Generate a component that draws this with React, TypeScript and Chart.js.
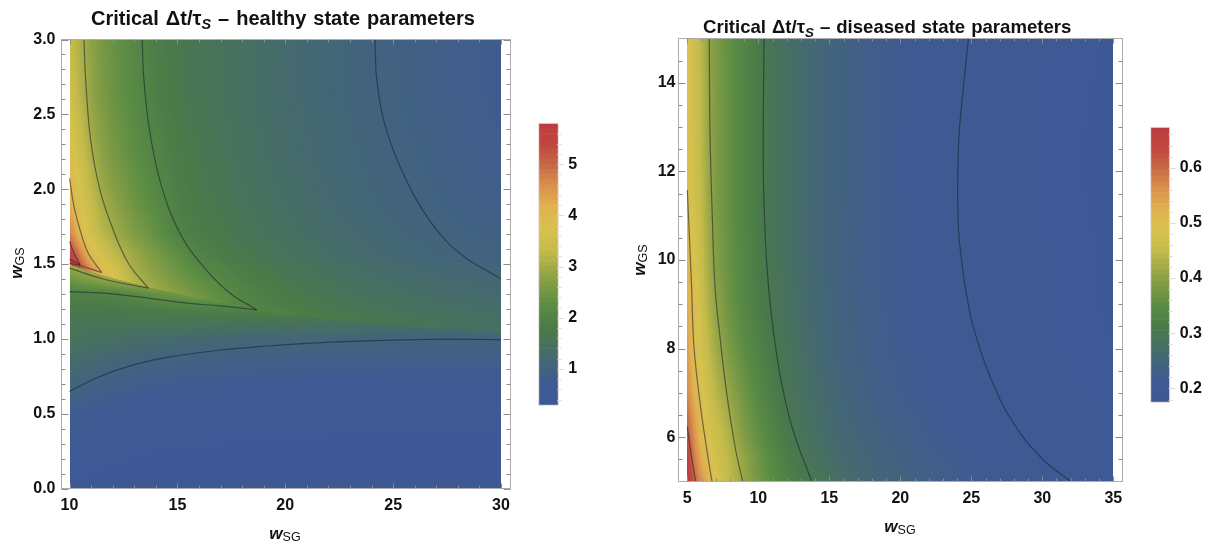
import React, { useEffect, useRef } from "react";
import { Chart, registerables } from "chart.js";

Chart.register(...registerables);

type Pt = [number, number];

/* ---------- colour ramp ---------- */
const rampStops: [number, string][] = [
  [0, "#3e5896"], [0.08, "#3f5a92"], [0.13, "#42637f"], [0.2, "#476f62"], [0.27, "#4a7a48"],
  [0.35, "#5a8c44"], [0.45, "#8ca145"], [0.55, "#c4bb4a"], [0.62, "#d6c24e"], [0.7, "#e0b350"],
  [0.78, "#d98f4c"], [0.85, "#c76a47"], [0.92, "#c0483f"], [1, "#bc3b3f"],
];

/* ---------- healthy state ---------- */
const healthyRange: Pt = [0.29, 5.8];
const healthyXTicks = [10, 15, 20, 25, 30];
const healthyYTicks = [0, 0.5, 1, 1.5, 2, 2.5, 3];
const healthyXMinor = [11, 12, 13, 14, 16, 17, 18, 19, 21, 22, 23, 24, 26, 27, 28, 29];
const healthyYMinor = [0.1, 0.2, 0.3, 0.4, 0.6, 0.7, 0.8, 0.9, 1.1, 1.2, 1.3, 1.4, 1.6, 1.7, 1.8, 1.9, 2.1, 2.2, 2.3, 2.4, 2.6, 2.7, 2.8, 2.9];
const healthyBarTicks = [1, 2, 3, 4, 5];
const healthyBarMinor = [0.4, 0.6, 0.8, 1.2, 1.4, 1.6, 1.8, 2.2, 2.4, 2.6, 2.8, 3.2, 3.4, 3.6, 3.8, 4.2, 4.4, 4.6, 4.8, 5.2, 5.4, 5.6];
const healthyBarLevels = [0.29, 0.4, 0.5, 0.6, 0.7, 0.8, 0.9, 1, 1.1, 1.2, 1.3, 1.4, 1.5, 1.6, 1.7, 1.8, 1.9, 2, 2.1, 2.2, 2.3, 2.4, 2.5, 2.6, 2.7, 2.8, 2.9, 3, 3.1, 3.2, 3.3, 3.4, 3.5, 3.6, 3.7, 3.8, 3.9, 4, 4.1, 4.2, 4.3, 4.4, 4.5, 4.6, 4.7, 4.8, 4.9, 5, 5.1, 5.2, 5.3, 5.4, 5.5, 5.6, 5.7, 5.8];

const ridge: Pt[] = [[10, 1.495], [11.49, 1.425], [13.65, 1.345], [18.68, 1.193], [22, 1.13], [26, 1.08], [30, 1.04]];

const upperXs = [10, 10.5, 11, 11.5, 12, 13, 14, 15, 16, 18, 20, 22, 24, 26, 28, 30];
const upperYs = [3, 2.6, 2.2, 1.9, 1.7, 1.55, 1.45, 1.35, 1.25, 1.15, 1.0];
const upperValues = [
  [3.4, 3.08, 2.8, 2.55, 2.38, 2.1, 1.86, 1.7, 1.58, 1.4, 1.24, 1.11, 1.01, 0.92, 0.84, 0.77],
  [3.6, 3.2, 2.85, 2.6, 2.42, 2.15, 1.9, 1.73, 1.6, 1.41, 1.25, 1.12, 1.02, 0.93, 0.85, 0.78],
  [3.92, 3.5, 3.1, 2.8, 2.58, 2.26, 2.02, 1.83, 1.68, 1.46, 1.29, 1.16, 1.05, 0.97, 0.89, 0.82],
  [4.2, 3.75, 3.36, 3.03, 2.82, 2.45, 2.15, 1.9, 1.75, 1.53, 1.36, 1.22, 1.1, 1.005, 0.93, 0.86],
  [4.75, 4.0, 3.55, 3.25, 3.02, 2.65, 2.32, 1.98, 1.82, 1.6, 1.42, 1.28, 1.16, 1.07, 0.98, 0.92],
  [5.7, 4.8, 4.05, 3.65, 3.35, 2.95, 2.6, 2.28, 2.0, 1.72, 1.52, 1.36, 1.24, 1.14, 1.05, 0.98],
  [6, 5.4, 4.6, 4.05, 3.7, 3.05, 2.72, 2.42, 2.17, 1.85, 1.62, 1.46, 1.33, 1.22, 1.15, 1.09],
  [6, 5.6, 5, 4.4, 3.9, 3.25, 2.92, 2.6, 2.35, 1.97, 1.72, 1.55, 1.42, 1.32, 1.24, 1.18],
  [6, 5.8, 5.2, 4.6, 4.1, 3.5, 3.1, 2.8, 2.55, 2.03, 1.82, 1.63, 1.5, 1.4, 1.32, 1.27],
  [6, 5.8, 5.2, 4.6, 4.1, 3.6, 3.2, 2.9, 2.7, 2.2, 1.95, 1.78, 1.63, 1.52, 1.43, 1.36],
  [6, 5.8, 5.2, 4.6, 4.1, 3.6, 3.2, 2.9, 2.7, 2.3, 2.0, 1.85, 1.7, 1.6, 1.5, 1.42],
];

const lowerXs = [10, 12, 14, 16, 18, 20, 22, 24, 26, 28, 30];
const lowerYs = [1.5, 1.4, 1.3, 1.2, 1.1, 1, 0.9, 0.8, 0.7, 0.6, 0.5, 0.4, 0.2, 0];
const lowerValues = [
  [3.05, 3.1, 3.1, 3, 2.9, 2.8, 2.6, 2.4, 2.2, 2.05, 1.9],
  [2.45, 2.95, 3.1, 3, 2.9, 2.7, 2.5, 2.3, 2.1, 1.95, 1.8],
  [1.93, 2.0, 2.35, 2.6, 2.5, 2.3, 2.1, 1.9, 1.8, 1.7, 1.6],
  [1.75, 1.75, 1.85, 1.92, 2.0, 2.05, 1.9, 1.75, 1.65, 1.55, 1.48],
  [1.6, 1.57, 1.55, 1.53, 1.5, 1.47, 1.44, 1.4, 1.35, 1.3, 1.26],
  [1.5, 1.38, 1.27, 1.2, 1.15, 1.12, 1.09, 1.06, 1.03, 1.02, 1.01],
  [1.36, 1.2, 1.08, 1.0, 0.96, 0.94, 0.92, 0.91, 0.9, 0.89, 0.89],
  [1.22, 1.03, 0.94, 0.88, 0.84, 0.82, 0.8, 0.79, 0.78, 0.78, 0.78],
  [1.07, 0.89, 0.8, 0.76, 0.73, 0.71, 0.7, 0.69, 0.68, 0.68, 0.68],
  [0.93, 0.77, 0.69, 0.65, 0.62, 0.61, 0.6, 0.59, 0.58, 0.58, 0.58],
  [0.8, 0.65, 0.59, 0.55, 0.53, 0.52, 0.51, 0.5, 0.5, 0.49, 0.49],
  [0.68, 0.55, 0.5, 0.47, 0.45, 0.44, 0.43, 0.42, 0.42, 0.41, 0.41],
  [0.48, 0.42, 0.38, 0.36, 0.35, 0.34, 0.33, 0.33, 0.32, 0.32, 0.32],
  [0.38, 0.35, 0.32, 0.31, 0.3, 0.3, 0.3, 0.3, 0.3, 0.3, 0.3],
];

const healthyContours: Pt[][] = [
  [[24.16, 3], [24.25, 2.72], [24.62, 2.43], [25.45, 2.11], [26.7, 1.79], [28.1, 1.57], [30, 1.4]],
  [[13.37, 3], [13.45, 2.73], [13.73, 2.374], [14.27, 2.017], [15.12, 1.706], [16.2, 1.483], [17.44, 1.305], [18.68, 1.195]],
  [[10, 1.316], [11.57, 1.305], [13.11, 1.282], [15.43, 1.238], [16.98, 1.22], [18.68, 1.193]],
  [[10.67, 3], [10.75, 2.73], [10.98, 2.33], [11.41, 1.995], [12.03, 1.727], [12.73, 1.505], [13.65, 1.338]],
  [[10, 1.472], [11.57, 1.4], [13.65, 1.338]],
  [[10, 2.073], [10.21, 1.883], [10.49, 1.727], [10.87, 1.572], [11.49, 1.443]],
  [[10, 1.505], [10.49, 1.49], [11.49, 1.443]],
  [[10, 1.65], [10.21, 1.572], [10.49, 1.494]],
  [[10, 1.532], [10.49, 1.494]],
  [[10, 0.648], [11.41, 0.748], [12.96, 0.826], [14.5, 0.876], [16.82, 0.922], [19.14, 0.952], [21, 0.97], [23.77, 0.987], [26.86, 0.997], [30, 0.995]],
];

/* ---------- diseased state ---------- */
const diseasedRange: Pt = [0.175, 0.673];
const diseasedXTicks = [5, 10, 15, 20, 25, 30, 35];
const diseasedYTicks = [6, 8, 10, 12, 14];
const diseasedXMinor = [6, 7, 8, 9, 11, 12, 13, 14, 16, 17, 18, 19, 21, 22, 23, 24, 26, 27, 28, 29, 31, 32, 33, 34];
const diseasedYMinor = [5.5, 6.5, 7, 7.5, 8.5, 9, 9.5, 10.5, 11, 11.5, 12.5, 13, 13.5, 14.5];
const diseasedBarTicks = [0.2, 0.3, 0.4, 0.5, 0.6];
const diseasedBarMinor = [0.18, 0.22, 0.24, 0.26, 0.28, 0.32, 0.34, 0.36, 0.38, 0.42, 0.44, 0.46, 0.48, 0.52, 0.54, 0.56, 0.58, 0.62, 0.64, 0.66];
const diseasedBarLevels = [0.175, 0.185, 0.195, 0.205, 0.215, 0.225, 0.235, 0.245, 0.255, 0.265, 0.275, 0.285, 0.295, 0.305, 0.315, 0.325, 0.335, 0.345, 0.355, 0.365, 0.375, 0.385, 0.395, 0.405, 0.415, 0.425, 0.435, 0.445, 0.455, 0.465, 0.475, 0.485, 0.495, 0.505, 0.515, 0.525, 0.535, 0.545, 0.555, 0.565, 0.575, 0.585, 0.595, 0.605, 0.615, 0.625, 0.635, 0.645, 0.655, 0.665, 0.673];

const diseasedXs = [5, 5.5, 6, 6.5, 7, 8, 9, 10, 11, 12, 14, 16, 18, 20, 22, 24, 26, 28, 30, 32, 35];
const diseasedYs = [15, 13, 11.6, 10, 9, 8, 7, 6, 5.5, 5];
const diseasedValues = [
  [0.49, 0.465, 0.44, 0.405, 0.385, 0.355, 0.33, 0.31, 0.29, 0.275, 0.25, 0.235, 0.225, 0.215, 0.208, 0.202, 0.197, 0.193, 0.19, 0.187, 0.184],
  [0.493, 0.468, 0.442, 0.408, 0.388, 0.357, 0.332, 0.31, 0.29, 0.275, 0.25, 0.235, 0.225, 0.214, 0.207, 0.201, 0.196, 0.192, 0.189, 0.186, 0.183],
  [0.5, 0.472, 0.445, 0.41, 0.385, 0.357, 0.33, 0.31, 0.29, 0.275, 0.25, 0.235, 0.224, 0.214, 0.207, 0.2, 0.196, 0.192, 0.189, 0.186, 0.183],
  [0.515, 0.485, 0.455, 0.42, 0.392, 0.36, 0.335, 0.31, 0.292, 0.277, 0.252, 0.237, 0.225, 0.215, 0.208, 0.202, 0.197, 0.193, 0.19, 0.187, 0.184],
  [0.53, 0.505, 0.465, 0.43, 0.403, 0.365, 0.338, 0.315, 0.297, 0.28, 0.254, 0.238, 0.226, 0.216, 0.209, 0.203, 0.198, 0.194, 0.19, 0.187, 0.184],
  [0.545, 0.5, 0.475, 0.445, 0.418, 0.38, 0.35, 0.325, 0.305, 0.288, 0.258, 0.24, 0.228, 0.218, 0.21, 0.204, 0.199, 0.195, 0.191, 0.188, 0.185],
  [0.57, 0.525, 0.49, 0.465, 0.44, 0.405, 0.37, 0.34, 0.315, 0.295, 0.265, 0.246, 0.232, 0.222, 0.214, 0.208, 0.202, 0.197, 0.193, 0.19, 0.186],
  [0.62, 0.56, 0.51, 0.485, 0.465, 0.43, 0.39, 0.358, 0.33, 0.307, 0.275, 0.253, 0.24, 0.23, 0.221, 0.212, 0.206, 0.2015, 0.197, 0.194, 0.19],
  [0.66, 0.58, 0.53, 0.5, 0.475, 0.44, 0.405, 0.37, 0.34, 0.318, 0.282, 0.26, 0.245, 0.235, 0.226, 0.218, 0.212, 0.206, 0.2, 0.196, 0.192],
  [0.68, 0.61, 0.56, 0.52, 0.49, 0.445, 0.41, 0.375, 0.348, 0.325, 0.295, 0.268, 0.25, 0.24, 0.23, 0.222, 0.215, 0.209, 0.205, 0.2, 0.195],
];

const diseasedContours: Pt[][] = [
  [[24.8, 15], [24.44, 13.9], [24.13, 12.78], [24.04, 11.65], [24.1, 10.68], [24.32, 9.99], [24.62, 9.3], [25.14, 8.49], [26.32, 7.37], [27.96, 6.32], [30.07, 5.49], [32, 5]],
  [[10.4, 15], [10.35, 12.1], [10.5, 10.45], [10.72, 9.4], [11.06, 8.4], [11.6, 7.29], [12.4, 6.2], [13.76, 5]],
  [[6.55, 15], [6.6, 12.86], [6.76, 10.98], [6.95, 9.4], [7.3, 8.27], [7.77, 7], [8.36, 5.79], [8.9, 5]],
  [[5, 11.58], [5.19, 10.22], [5.3, 9.4], [5.47, 8.04], [5.9, 6.77], [6.41, 5.64], [6.74, 5]],
  [[5, 6.24], [5.26, 5.64], [5.59, 5]],
];

/* ---------- helpers ---------- */
function hexRgb(h: string): number[] {
  return [parseInt(h.slice(1, 3), 16), parseInt(h.slice(3, 5), 16), parseInt(h.slice(5, 7), 16)];
}
function ramp(v: number, range: Pt): number[] {
  const t = Math.min(1, Math.max(0, (v - range[0]) / (range[1] - range[0])));
  for (let i = 1; i < rampStops.length; i++) {
    if (t <= rampStops[i][0]) {
      const [t0, c0] = rampStops[i - 1];
      const [t1, c1] = rampStops[i];
      const f = (t - t0) / (t1 - t0);
      const a = hexRgb(c0), b = hexRgb(c1);
      return [a[0] + (b[0] - a[0]) * f, a[1] + (b[1] - a[1]) * f, a[2] + (b[2] - a[2]) * f];
    }
  }
  return hexRgb(rampStops[rampStops.length - 1][1]);
}
function bracket(arr: number[], v: number): [number, number] {
  const asc = arr[0] < arr[arr.length - 1];
  for (let i = 0; i < arr.length - 1; i++) {
    const a = arr[i], b = arr[i + 1];
    if (asc ? v <= b : v >= b) return [i, Math.min(1, Math.max(0, (v - a) / (b - a)))];
  }
  return [arr.length - 2, 1];
}
function sample(xs: number[], ys: number[], vals: number[][], x: number, y: number): number {
  const [i, fx] = bracket(xs, x);
  const [j, fy] = bracket(ys, y);
  const top = vals[j][i] + (vals[j][i + 1] - vals[j][i]) * fx;
  const bot = vals[j + 1][i] + (vals[j + 1][i + 1] - vals[j + 1][i]) * fx;
  return top + (bot - top) * fy;
}
function polyY(line: Pt[], x: number): number {
  for (let i = 0; i < line.length - 1; i++) {
    if (x <= line[i + 1][0]) {
      const f = (x - line[i][0]) / (line[i + 1][0] - line[i][0]);
      return line[i][1] + (line[i + 1][1] - line[i][1]) * f;
    }
  }
  return line[line.length - 1][1];
}

type FieldFn = (x: number, y: number) => number;

const healthyField: FieldFn = (x, y) =>
  y > polyY(ridge, x)
    ? sample(upperXs, upperYs, upperValues, x, y)
    : sample(lowerXs, lowerYs, lowerValues, x, y);
const diseasedField: FieldFn = (x, y) => sample(diseasedXs, diseasedYs, diseasedValues, x, y);

function heatPlugin(field: FieldFn, range: Pt, xDomain: Pt, yDomain: Pt) {
  return {
    id: "heat",
    beforeDatasetsDraw(chart: any) {
      const { ctx, scales } = chart;
      const sx = scales.x, sy = scales.y;
      const x0 = Math.round(sx.getPixelForValue(xDomain[0]));
      const x1 = Math.round(sx.getPixelForValue(xDomain[1]));
      const y0 = Math.round(sy.getPixelForValue(yDomain[1]));
      const y1 = Math.round(sy.getPixelForValue(yDomain[0]));
      const w = x1 - x0, h = y1 - y0;
      const off = document.createElement("canvas");
      off.width = w; off.height = h;
      const oc = off.getContext("2d")!;
      const img = oc.createImageData(w, h);
      for (let py = 0; py < h; py++) {
        const vy = sy.getValueForPixel(y0 + py + 0.5);
        for (let px = 0; px < w; px++) {
          const vx = sx.getValueForPixel(x0 + px + 0.5);
          const c = ramp(field(vx, vy), range);
          const k = (py * w + px) * 4;
          img.data[k] = c[0]; img.data[k + 1] = c[1]; img.data[k + 2] = c[2]; img.data[k + 3] = 255;
        }
      }
      oc.putImageData(img, 0, 0);
      ctx.save();
      ctx.beginPath();
      ctx.rect(x0, y0, w, h);
      ctx.clip();
      ctx.drawImage(off, x0, y0);
      ctx.filter = "blur(0.7px)";
      ctx.drawImage(off, x0, y0);
      ctx.restore();
    },
  };
}

function framePlugin(xMajor: number[], xMinor: number[], yMajor: number[], yMinor: number[]) {
  return {
    id: "frame",
    afterDatasetsDraw(chart: any) {
      const { ctx, chartArea: a, scales } = chart;
      ctx.save();
      ctx.lineWidth = 1;
      ctx.strokeStyle = "#adadad";
      ctx.strokeRect(a.left, a.top, a.right - a.left, a.bottom - a.top);
      ctx.strokeStyle = "#8c8c8c";
      const v = (val: number, len: number) => {
        const p = Math.round(scales.x.getPixelForValue(val)) + 0.5;
        ctx.beginPath();
        ctx.moveTo(p, a.bottom); ctx.lineTo(p, a.bottom - len);
        ctx.moveTo(p, a.top); ctx.lineTo(p, a.top + len);
        ctx.stroke();
      };
      const h = (val: number, len: number) => {
        const p = Math.round(scales.y.getPixelForValue(val)) + 0.5;
        ctx.beginPath();
        ctx.moveTo(a.left, p); ctx.lineTo(a.left + len, p);
        ctx.moveTo(a.right, p); ctx.lineTo(a.right - len, p);
        ctx.stroke();
      };
      xMajor.forEach((t) => v(t, 5));
      xMinor.forEach((t) => v(t, 3));
      yMajor.forEach((t) => h(t, 7));
      yMinor.forEach((t) => h(t, 4));
      ctx.restore();
    },
  };
}

function barTickPlugin(major: number[], minor: number[]) {
  return {
    id: "barTicks",
    afterDatasetsDraw(chart: any) {
      const { ctx, chartArea: a, scales } = chart;
      ctx.save();
      ctx.lineWidth = 1;
      ctx.strokeStyle = "rgba(235,225,225,0.9)";
      ctx.strokeRect(a.left, a.top, a.right - a.left, a.bottom - a.top);
      ctx.strokeStyle = "#dddddd";
      [...major.map((t) => [t, 6]), ...minor.map((t) => [t, 3])].forEach(([t, len]) => {
        const p = Math.round(scales.y.getPixelForValue(t)) + 0.5;
        ctx.beginPath();
        ctx.moveTo(a.right - 1, p); ctx.lineTo(a.right + len, p);
        ctx.stroke();
      });
      ctx.restore();
    },
  };
}

const tickFont = { family: "'Liberation Sans'", size: 16, weight: "bold" as const };

function makeHeat(canvas: HTMLCanvasElement, o: any) {
  return new Chart(canvas, {
    type: "scatter",
    data: {
      datasets: o.contours.map((c: Pt[]) => ({
        data: c.map(([x, y]) => ({ x, y })),
        showLine: true,
        pointRadius: 0,
        borderColor: "rgba(22,32,48,0.55)",
        borderWidth: 1.2,
        tension: 0.4,
      })),
    },
    options: {
      animation: false,
      responsive: false,
      events: [],
      layout: { padding: o.padding },
      plugins: { legend: { display: false }, tooltip: { enabled: false }, title: { display: false } },
      scales: {
        x: {
          type: "linear",
          min: o.xMin,
          max: o.xMax,
          grid: { display: false, drawTicks: false },
          border: { display: false },
          afterBuildTicks(s: any) { s.ticks = o.xTicks.map((value: number) => ({ value })); },
          afterFit(s: any) { s.height = o.xHeight; },
          ticks: {
            autoSkip: false, maxRotation: 0, minRotation: 0, padding: o.xPad, color: "#111",
            font: tickFont, callback: (val: any) => String(val),
          },
        },
        y: {
          type: "linear",
          min: o.yMin,
          max: o.yMax,
          grid: { display: false, drawTicks: false },
          border: { display: false },
          afterBuildTicks(s: any) { s.ticks = o.yTicks.map((value: number) => ({ value })); },
          afterFit(s: any) { s.width = o.yWidth; },
          ticks: {
            autoSkip: false, padding: o.yPad, color: "#111", font: tickFont,
            callback: (val: any) => Number(val).toFixed(o.yDecimals),
          },
        },
      },
    },
    plugins: [
      heatPlugin(o.field, o.range, o.xDomain, o.yDomain),
      framePlugin(o.xTicks, o.xMinor, o.yMajor, o.yMinor),
    ],
  } as any);
}

function makeBar(canvas: HTMLCanvasElement, o: any) {
  const levels: number[] = o.levels;
  return new Chart(canvas, {
    type: "bar",
    data: {
      labels: ["scale"],
      datasets: levels.slice(0, -1).map((lo, i) => {
        const hi = levels[i + 1];
        const c = ramp((lo + hi) / 2, o.range).map(Math.round);
        return {
          data: [[lo, hi]],
          backgroundColor: `rgb(${c[0]},${c[1]},${c[2]})`,
          borderWidth: 0,
          barPercentage: 1,
          categoryPercentage: 1,
          grouped: false,
        };
      }),
    },
    options: {
      animation: false,
      responsive: false,
      events: [],
      layout: { padding: o.padding },
      plugins: { legend: { display: false }, tooltip: { enabled: false } },
      scales: {
        x: { display: false },
        y: {
          position: "right",
          min: o.range[0],
          max: o.range[1],
          grid: { display: false, drawTicks: false },
          border: { display: false },
          afterBuildTicks(s: any) { s.ticks = o.ticks.map((value: number) => ({ value })); },
          afterFit(s: any) { s.width = o.width; },
          ticks: {
            autoSkip: false, padding: o.pad, color: "#111", font: tickFont,
            callback: (val: any) => (o.decimals ? Number(val).toFixed(o.decimals) : String(val)),
          },
        },
      },
    },
    plugins: [barTickPlugin(o.ticks, o.minor)],
  } as any);
}

const titleStyle: React.CSSProperties = {
  position: "absolute",
  fontFamily: "'Liberation Sans'",
  fontWeight: "bold",
  color: "#111",
  whiteSpace: "pre",
  lineHeight: "22px",
};
const soft = "blur(0.35px)";
const abs = (left: number, top: number): React.CSSProperties => ({ position: "absolute", left, top, filter: soft });

function Title({ left, top, size, gap, state }: { left: number; top: number; size: number; gap: number; state: string }) {
  return (
    <div style={{ ...titleStyle, left, top, fontSize: size, wordSpacing: gap, filter: soft }}>
      {"Critical Δt/τ"}
      <span style={{ fontStyle: "italic", fontSize: size * 0.72, position: "relative", top: 4 }}>S</span>
      {` – ${state} state parameters`}
    </div>
  );
}

function AxisLabel({ cx, cy, sub, rotate }: { cx: number; cy: number; sub: string; rotate?: boolean }) {
  return (
    <div
      style={{
        position: "absolute", left: cx - 30, top: cy - 12, width: 60, height: 24, lineHeight: "24px",
        textAlign: "center", color: "#111", fontFamily: "'Liberation Sans'", filter: soft,
        transform: rotate ? "rotate(-90deg)" : undefined,
      }}
    >
      <span style={{ fontStyle: "italic", fontWeight: "bold", fontSize: 17 }}>w</span>
      <span style={{ fontSize: 12.5, position: "relative", top: 2 }}>{sub}</span>
    </div>
  );
}

export default function App() {
  const a = useRef<HTMLCanvasElement>(null);
  const b = useRef<HTMLCanvasElement>(null);
  const c = useRef<HTMLCanvasElement>(null);
  const d = useRef<HTMLCanvasElement>(null);

  useEffect(() => {
    const charts = [
      makeHeat(a.current!, {
        contours: healthyContours, field: healthyField, range: healthyRange,
        padding: { left: 0, top: 39.5, right: 19.5, bottom: 0 },
        xMin: 9.629, xMax: 30.44, yMin: 0, yMax: 3,
        xDomain: [10, 30], yDomain: [0, 3],
        xHeight: 58.5, yWidth: 61.5, xPad: 7, yPad: 6, yDecimals: 1,
        xTicks: healthyXTicks, yTicks: healthyYTicks,
        xMinor: healthyXMinor, yMajor: healthyYTicks, yMinor: healthyYMinor,
      }),
      makeBar(b.current!, {
        levels: healthyBarLevels, range: healthyRange, ticks: healthyBarTicks, minor: healthyBarMinor,
        padding: { left: 13.7, top: 123.3, right: 0, bottom: 141.7 }, width: 51.7, pad: 10, decimals: 0,
      }),
      makeHeat(c.current!, {
        contours: diseasedContours, field: diseasedField, range: diseasedRange,
        padding: { left: 0, top: 38.5, right: 27.5, bottom: 0 },
        xMin: 4.38, xMax: 35.648, yMin: 5, yMax: 15,
        xDomain: [5, 35], yDomain: [5, 15],
        xHeight: 65.5, yWidth: 58.5, xPad: 7, yPad: 3, yDecimals: 0,
        xTicks: diseasedXTicks, yTicks: diseasedYTicks,
        xMinor: diseasedXMinor, yMajor: diseasedYTicks, yMinor: diseasedYMinor,
      }),
      makeBar(d.current!, {
        levels: diseasedBarLevels, range: diseasedRange, ticks: diseasedBarTicks, minor: diseasedBarMinor,
        padding: { left: 15.7, top: 127.3, right: 0, bottom: 144.7 }, width: 44.3, pad: 10, decimals: 1,
      }),
    ];
    return () => charts.forEach((ch) => ch.destroy());
  }, []);

  return (
    <div style={{ position: "fixed", left: 0, top: 0, width: 1214, height: 547, background: "#fff", overflow: "hidden" }}>
      <canvas ref={a} width={530} height={547} style={abs(0, 0)} />
      <canvas ref={b} width={85} height={547} style={abs(525, 0)} />
      <canvas ref={c} width={530} height={547} style={abs(620, 0)} />
      <canvas ref={d} width={79} height={547} style={abs(1135, 0)} />
      <Title left={91} top={7} size={20} gap={1.5} state="healthy" />
      <Title left={703} top={16} size={18.6} gap={0.8} state="diseased" />
      <AxisLabel cx={285} cy={534} sub="SG" />
      <AxisLabel cx={900} cy={527} sub="SG" />
      <AxisLabel cx={17} cy={263} sub="GS" rotate />
      <AxisLabel cx={640} cy={260} sub="GS" rotate />
    </div>
  );
}
